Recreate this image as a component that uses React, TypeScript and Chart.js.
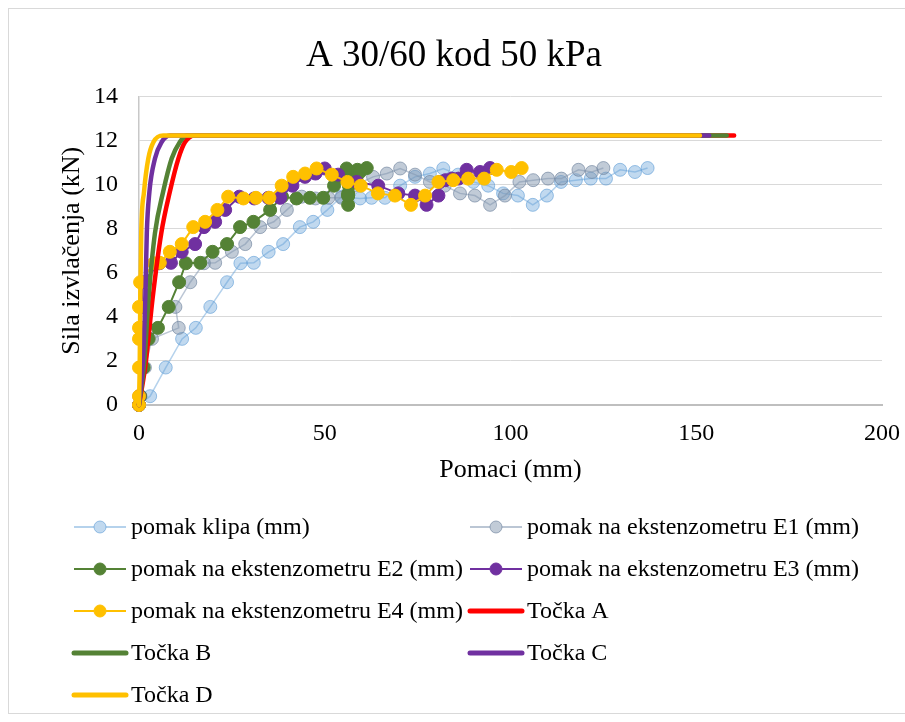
import React, { useEffect, useRef } from "react";
import { Chart, registerables } from "chart.js";

Chart.register(...registerables);

const chartTitle = "A 30/60 kod 50 kPa";
const xAxisTitle = "Pomaci (mm)";
const yAxisTitle = "Sila izvlačenja (kN)";
const xTickValues = [0, 50, 100, 150, 200];
const yTickValues = [0, 2, 4, 6, 8, 10, 12, 14];

// measured pull-out force (kN), shared by every displacement gauge
const force = [0, 0.4, 1.7, 3.0, 3.5, 4.45, 5.57, 6.43, 6.45, 6.95, 7.3, 8.07, 8.31, 8.85, 9.45, 9.37, 9.4, 9.4, 9.95, 10.35, 10.5, 10.73, 10.45, 10.12, 9.95, 9.6, 9.5, 9.08, 9.5, 10.12, 10.2, 10.27, 10.27, 10.67, 10.57, 10.75];

// displacements (mm)
const pomakKlipa = [0, 3.0, 7.2, 11.6, 15.3, 19.2, 23.7, 27.3, 30.9, 34.9, 38.8, 43.3, 46.9, 50.7, 54.5, 59.5, 62.6, 66.2, 70.3, 74.3, 78.3, 81.9, 85.9, 90.0, 94.0, 98.0, 102.0, 106.0, 109.8, 113.6, 117.6, 121.6, 125.7, 129.5, 133.5, 136.9];
const pomakE1 = [0, 0.4, 1.6, 3.5, 10.7, 9.8, 13.8, 17.5, 20.5, 25.0, 28.6, 32.6, 36.3, 39.8, 43.8, 47.5, 51.0, 54.5, 58.0, 63.0, 66.7, 70.3, 74.3, 78.3, 82.3, 86.4, 90.4, 94.5, 98.5, 102.4, 106.1, 110.1, 113.7, 118.3, 121.9, 125.0];
const pomakE2 = [0, 0.3, 1.25, 2.6, 5.1, 8.0, 10.8, 12.6, 16.5, 19.8, 23.7, 27.2, 30.8, 35.3, 38.5, 42.4, 46.0, 49.6, 52.5, 54.0, 55.2, 55.9, 57.5, 57.0, 56.5, 56.3, 56.3, 56.3, 56.3, 57.0, 57.5, 58.0, 58.5, 58.8, 59.5, 61.3];
const pomakE3 = [0, 0.1, 0.3, 0.4, 0.5, 0.7, 1.0, 5.5, 8.6, 11.5, 15.1, 17.5, 20.5, 23.2, 27.0, 31.0, 34.8, 38.0, 41.3, 44.7, 47.5, 50.0, 53.6, 58.6, 64.4, 69.8, 74.3, 77.4, 80.6, 81.0, 82.5, 84.2, 86.0, 88.2, 91.8, 94.5];
const pomakE4 = [0, 0, 0, 0, 0, 0, 0.3, 4.0, 5.6, 8.3, 11.5, 14.6, 17.8, 21.1, 24.0, 28.1, 31.5, 35.1, 38.4, 41.5, 44.7, 47.8, 51.9, 56.1, 59.7, 64.3, 68.9, 73.2, 77.0, 80.6, 84.6, 88.6, 92.9, 96.3, 100.2, 103.0];

// model curves (Točka A-D)
const tockaForce = [0, 1.9, 4.9, 7.8, 9.67, 11.18, 11.93, 12.23, 12.23];
const tockaA = [0, 1.8, 3.7, 6.0, 8.3, 10.6, 12.4, 15.0, 160.2];
const tockaB = [0, 1.4, 2.6, 4.3, 6.5, 8.8, 11.0, 12.8, 158.2];
const tockaC = [0, 1.0, 1.7, 2.1, 2.8, 4.3, 6.1, 8.3, 153.5];
const tockaD = [0, 0.2, 0.35, 0.6, 1.35, 2.5, 3.9, 6.5, 151.0];

const FONT = '"Liberation Serif", "Times New Roman", serif';

const pts = (xs: number[], ys: number[]) => xs.map((x, i) => ({ x, y: ys[i] }));

const markerSeries = (label: string, xs: number[], line: string, fill: string, border: string, lw: number) => ({
  label,
  data: pts(xs, force),
  showLine: true,
  borderColor: line,
  borderWidth: lw,
  backgroundColor: fill,
  pointBackgroundColor: fill,
  pointBorderColor: border,
  pointBorderWidth: 1,
  pointRadius: 6.5,
  pointHoverRadius: 6.5,
  tension: 0,
  clip: false as const,
});

const curveSeries = (label: string, xs: number[], color: string) => ({
  label,
  data: pts(xs, tockaForce),
  showLine: true,
  borderColor: color,
  backgroundColor: color,
  borderWidth: 4.5,
  pointRadius: 0,
  pointHoverRadius: 0,
  cubicInterpolationMode: "monotone" as const,
  borderCapStyle: "round" as const,
  clip: false as const,
});

const legendPlugin = {
  id: "twoColumnLegend",
  afterDraw(chart: any) {
    const ctx = chart.ctx as CanvasRenderingContext2D;
    const sets = chart.data.datasets as any[];
    ctx.save();
    sets.forEach((ds, i) => {
      const col = i % 2;
      const row = Math.floor(i / 2);
      const x0 = col === 0 ? 74 : 470;
      const x1 = x0 + 52;
      const y = 527 + row * 42;
      const isMarker = ds.pointRadius > 0;
      ctx.beginPath();
      ctx.lineWidth = isMarker ? 2 : 5;
      ctx.lineCap = isMarker ? "butt" : "round";
      ctx.strokeStyle = ds.borderColor;
      ctx.moveTo(x0, y);
      ctx.lineTo(x1, y);
      ctx.stroke();
      if (isMarker) {
        ctx.beginPath();
        ctx.arc((x0 + x1) / 2, y, 6, 0, Math.PI * 2);
        ctx.fillStyle = "#ffffff";
        ctx.fill();
        ctx.fillStyle = ds.pointBackgroundColor;
        ctx.fill();
        ctx.lineWidth = 1;
        ctx.strokeStyle = ds.pointBorderColor;
        ctx.stroke();
      }
      ctx.fillStyle = "#000000";
      ctx.font = `24px ${FONT}`;
      ctx.textAlign = "left";
      ctx.textBaseline = "middle";
      ctx.fillText(ds.label, x1 + 5, y + 1);
    });
    ctx.restore();
  },
};

export default function App() {
  const canvasRef = useRef<HTMLCanvasElement | null>(null);

  useEffect(() => {
    if (!canvasRef.current) return;
    const datasets: any[] = [
      markerSeries("pomak klipa (mm)", pomakKlipa, "rgba(91,155,213,0.45)", "rgba(91,155,213,0.38)", "rgba(91,155,213,0.6)", 1.5),
      markerSeries("pomak na ekstenzometru E1 (mm)", pomakE1, "rgba(132,151,176,0.55)", "rgba(132,151,176,0.5)", "rgba(112,132,158,0.65)", 1.5),
      markerSeries("pomak na ekstenzometru E2 (mm)", pomakE2, "#548235", "#548235", "#548235", 2),
      markerSeries("pomak na ekstenzometru E3 (mm)", pomakE3, "#7030A0", "#7030A0", "#7030A0", 2),
      markerSeries("pomak na ekstenzometru E4 (mm)", pomakE4, "#FFC000", "#FFC000", "#FFC000", 2),
      curveSeries("Točka A", tockaA, "#FF0000"),
      curveSeries("Točka B", tockaB, "#548235"),
      curveSeries("Točka C", tockaC, "#7030A0"),
      curveSeries("Točka D", tockaD, "#FFC000"),
    ];
    datasets.forEach((d, i) => (d.order = datasets.length - i));

    const chart = new Chart(canvasRef.current, {
      type: "scatter",
      data: { datasets },
      plugins: [legendPlugin],
      options: {
        animation: false,
        responsive: false,
        maintainAspectRatio: false,
        layout: { padding: { left: 26, right: 23, top: 0, bottom: 227 } },
        plugins: {
          legend: { display: false },
          tooltip: { enabled: false },
          title: {
            display: true,
            text: chartTitle,
            color: "#000",
            font: { family: FONT, size: 37, weight: "normal" },
            padding: { top: 34, bottom: 18 },
          },
        },
        scales: {
          x: {
            type: "linear",
            min: xTickValues[0],
            max: xTickValues[xTickValues.length - 1],
            afterBuildTicks: (scale: any) => {
              scale.ticks = xTickValues.map((v) => ({ value: v }));
            },
            afterFit: (scale: any) => {
              scale.height = 90;
              scale.paddingLeft = 0;
              scale.paddingRight = 0;
            },
            ticks: { color: "#000", font: { family: FONT, size: 24 }, padding: 14, maxRotation: 0 },
            grid: { display: false, drawTicks: false },
            border: { display: true, color: "#bfbfbf", width: 2 },
            title: {
              display: true,
              text: xAxisTitle,
              color: "#000",
              font: { family: FONT, size: 26 },
              padding: { top: 0, bottom: 9 },
            },
          },
          y: {
            type: "linear",
            min: yTickValues[0],
            max: yTickValues[yTickValues.length - 1],
            afterBuildTicks: (scale: any) => {
              scale.ticks = yTickValues.map((v) => ({ value: v }));
            },
            afterFit: (scale: any) => {
              scale.width = 113;
            },
            ticks: { color: "#000", font: { family: FONT, size: 24 }, padding: 21 },
            grid: { color: "#d9d9d9", lineWidth: 1, drawTicks: false },
            border: { display: true, color: "#c8c8c8", width: 1.5 },
            title: {
              display: true,
              text: yAxisTitle,
              color: "#000",
              font: { family: FONT, size: 26 },
              padding: { top: 31, bottom: 0 },
            },
          },
        },
      },
    });
    return () => chart.destroy();
  }, []);

  return (
    <div>
      <div
        style={{
          position: "fixed",
          left: 8,
          top: 8,
          width: 910,
          height: 706,
          boxSizing: "border-box",
          border: "1px solid #d9d9d9",
          background: "#fff",
        }}
      />
      <canvas
        ref={canvasRef}
        width={905}
        height={722}
        style={{ position: "fixed", left: 0, top: 0, display: "block" }}
      />
    </div>
  );
}
